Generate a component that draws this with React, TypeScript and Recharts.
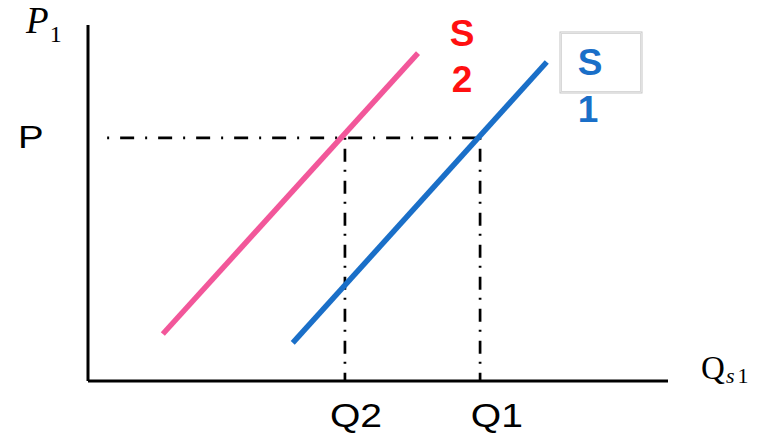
import React from 'react';
import { LineChart, Line, XAxis, YAxis, ReferenceLine, ReferenceDot } from 'recharts';

// Supply curve S2 (pink) and S1 (blue): [quantity, price]
const s2Q = [12.9, 56.9];
const s2P = [13.2, 92.1];
const s1Q = [35.3, 79.1];
const s1P = [10.7, 89.6];

// Equilibrium guide values
const priceP = 68.3;
const qtyQ2 = 44.3;
const qtyQ1 = 67.6;
const guideStart = 3.3;

const supply2 = s2Q.map((q, i) => ({ q, p: s2P[i] }));
const supply1 = s1Q.map((q, i) => ({ q, p: s1P[i] }));

const W = 764;
const H = 433;
const margin = { top: 25, right: 96, bottom: 52, left: 88 };

const PINK = '#f2579a';
const BLUE = '#1a6fc8';
const RED = '#ff1010';

type VB = { x: number; y: number; width: number; height: number };
const at = (render: (cx: number, cy: number) => React.ReactNode) => (props: any) => {
  const vb: VB = props.viewBox;
  const cx = vb.x + vb.width / 2;
  const cy = vb.y + vb.height / 2;
  return <g>{render(cx, cy)}</g>;
};

const sans = '"Liberation Sans", Arial, sans-serif';
const serif = '"Liberation Serif", "DejaVu Serif", serif';

const dashH = '2 11 14 11';
const dashV = '2 9 13 8';

export default function App() {
  return (
    <div style={{ position: 'absolute', left: 0, top: 0, width: W, height: H, background: '#fff' }}>
      <LineChart width={W} height={H} margin={margin}>
        <XAxis type="number" dataKey="q" domain={[0, 100]} hide allowDataOverflow />
        <YAxis type="number" dataKey="p" domain={[0, 100]} hide allowDataOverflow />

        {/* axes */}
        <ReferenceLine x={0} stroke="#000" strokeWidth={3} ifOverflow="visible" />
        <ReferenceLine y={0} stroke="#000" strokeWidth={3} ifOverflow="visible" />

        {/* guides */}
        <ReferenceLine
          segment={[{ x: guideStart, y: priceP }, { x: qtyQ1, y: priceP }]}
          stroke="#000"
          strokeWidth={2.7}
          strokeDasharray={dashH}
          ifOverflow="visible"
        />
        <ReferenceLine
          segment={[{ x: qtyQ2, y: priceP }, { x: qtyQ2, y: 0 }]}
          stroke="#000"
          strokeWidth={2.7}
          strokeDasharray={dashV}
          ifOverflow="visible"
        />
        <ReferenceLine
          segment={[{ x: qtyQ1, y: priceP }, { x: qtyQ1, y: 0 }]}
          stroke="#000"
          strokeWidth={2.7}
          strokeDasharray={dashV}
          ifOverflow="visible"
        />

        <Line data={supply2} dataKey="p" stroke={PINK} strokeWidth={5.5} dot={false} isAnimationActive={false} />
        <Line data={supply1} dataKey="p" stroke={BLUE} strokeWidth={5.5} dot={false} isAnimationActive={false} />

        {/* P1 axis title */}
        <ReferenceDot
          x={-10.34}
          y={97.75}
          r={1}
          fill="none"
          stroke="none"
          ifOverflow="visible"
          label={{
            content: at((x, y) => (
              <text x={x - 2} y={y} fontFamily={serif} fill="#000">
                <tspan fontSize={37} fontStyle="italic">P</tspan>
                <tspan fontSize={24} dx={1} dy={9}>1</tspan>
              </text>
            )),
          }}
        />
        {/* P */}
        <ReferenceDot
          x={-12.07}
          y={65.45}
          r={1}
          fill="none"
          stroke="none"
          ifOverflow="visible"
          label={{
            content: at((x, y) => (
              <text transform={`translate(${x},${y}) scale(1.2,1)`} x={0} y={0} fontFamily={sans} fontSize={32} fill="#000">
                P
              </text>
            )),
          }}
        />
        {/* S2 */}
        <ReferenceDot
          x={64.5}
          y={94.1}
          r={1}
          fill="none"
          stroke="none"
          ifOverflow="visible"
          label={{
            content: at((x, y) => (
              <g>
                <text x={x} y={y} textAnchor="middle" fontFamily={sans} fontWeight="bold" fontSize={37} fill={RED}>
                  S
                </text>
                <text x={x} y={y + 46} textAnchor="middle" fontFamily={sans} fontWeight="bold" fontSize={37} fill={RED}>
                  2
                </text>
              </g>
            )),
          }}
        />
        {/* S1 */}
        <ReferenceDot
          x={86.55}
          y={85.96}
          r={1}
          fill="none"
          stroke="none"
          ifOverflow="visible"
          label={{
            content: at((x, y) => (
              <g>
                <rect x={x - 30} y={y - 43} width={82} height={61} fill="none" stroke="#c4c4c4" strokeWidth={1} />
                <rect x={x - 28.5} y={y - 41.5} width={79} height={58} fill="none" stroke="#d8d8d8" strokeWidth={1} />
                <text x={x} y={y} textAnchor="middle" fontFamily={sans} fontWeight="bold" fontSize={37} fill={BLUE}>
                  S
                </text>
                <text x={x - 2} y={y + 47} textAnchor="middle" fontFamily={sans} fontWeight="bold" fontSize={37} fill={BLUE}>
                  1
                </text>
              </g>
            )),
          }}
        />
        {/* Q2 */}
        <ReferenceDot
          x={46.2}
          y={-12.9}
          r={1}
          fill="none"
          stroke="none"
          ifOverflow="visible"
          label={{
            content: at((x, y) => (
              <text transform={`translate(${x},${y}) scale(1.15,1)`} x={0} y={0} textAnchor="middle" fontFamily={sans} fontSize={34} fill="#000">
                Q2
              </text>
            )),
          }}
        />
        {/* Q1 */}
        <ReferenceDot
          x={70.5}
          y={-12.9}
          r={1}
          fill="none"
          stroke="none"
          ifOverflow="visible"
          label={{
            content: at((x, y) => (
              <text transform={`translate(${x},${y}) scale(1.15,1)`} x={0} y={0} textAnchor="middle" fontFamily={sans} fontSize={34} fill="#000">
                Q1
              </text>
            )),
          }}
        />
        {/* Qs1 axis title */}
        <ReferenceDot
          x={105.7}
          y={0.56}
          r={1}
          fill="none"
          stroke="none"
          ifOverflow="visible"
          label={{
            content: at((x, y) => (
              <text x={x} y={y} fontFamily={serif} fill="#000">
                <tspan fontSize={33}>Q</tspan>
                <tspan fontSize={22} dx={1} dy={4} fontStyle="italic">s</tspan>
                <tspan fontSize={22} dx={3}>1</tspan>
              </text>
            )),
          }}
        />
      </LineChart>
    </div>
  );
}
